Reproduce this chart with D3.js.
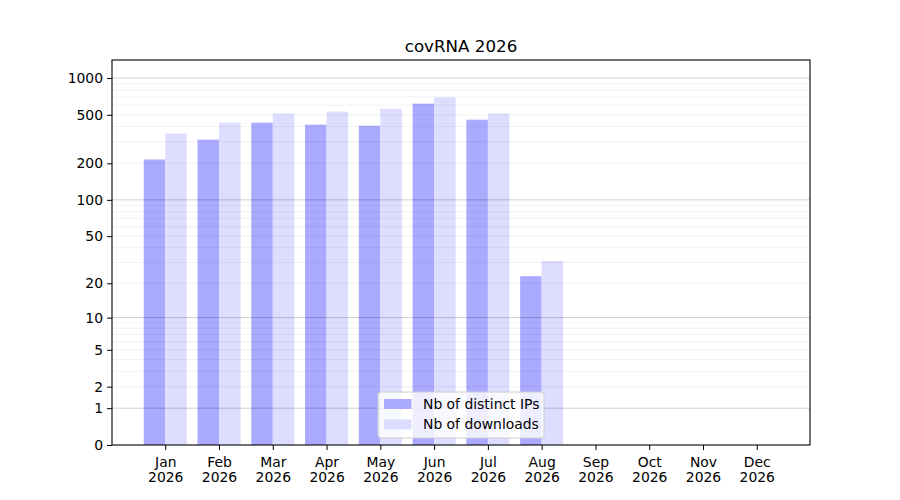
<!DOCTYPE html>
<html>
<head>
<meta charset="utf-8">
<script src="https://cdn.jsdelivr.net/npm/d3@7"></script>
<style>
  body { margin: 0; background: #fff; }
  text { font-family: "DejaVu Sans", sans-serif; }
</style>
</head>
<body>
<div id="chart"></div>
<script>
let months    = ["Jan", "Feb", "Mar", "Apr", "May", "Jun", "Jul", "Aug", "Sep", "Oct", "Nov", "Dec"];
let year      = "2026";
let ips       = [215, 313, 431, 415, 407, 617, 456, 23, 0, 0, 0, 0];
let downloads = [351, 431, 511, 531, 561, 694, 511, 31, 0, 0, 0, 0];
let yTicks    = [0, 1, 2, 5, 10, 20, 50, 100, 200, 500, 1000];
let majorGrid = [1, 10, 100, 1000];
let minorGrid = [2, 3, 4, 5, 6, 7, 8, 9,
                 20, 30, 40, 50, 60, 70, 80, 90,
                 200, 300, 400, 500, 600, 700, 800, 900];

let width   = 900,
    height  = 500,
    plotL   = 112,
    plotR   = 810,
    plotT   = 60,
    plotB   = 445,
    barW    = 0.4;

let svg =
  d3.select("#chart")
    .append("svg")
      .attr("width", width)
      .attr("height", height);

let x =
  d3.scaleLinear()
    .domain([-0.99, 11.99])
    .range([plotL, plotR]);

let y =
  d3.scaleSymlog()
    .constant(1)
    .domain([0, 1405])
    .range([plotB, plotT]);

// bars
let groups = svg.append("g");

groups.selectAll(".ips")
  .data(ips)
  .enter()
  .append("rect")
    .attr("class", "ips")
    .attr("x", function(d, i) { return x(i - barW); })
    .attr("width", x(barW) - x(0))
    .attr("y", function(d) { return y(d); })
    .attr("height", function(d) { return y(0) - y(d); })
    .attr("fill", "#aaaaff");

groups.selectAll(".dl")
  .data(downloads)
  .enter()
  .append("rect")
    .attr("class", "dl")
    .attr("x", function(d, i) { return x(i); })
    .attr("width", x(barW) - x(0))
    .attr("y", function(d) { return y(d); })
    .attr("height", function(d) { return y(0) - y(d); })
    .attr("fill", "#ddddff");

// grid on top, semi transparent like the original
svg.append("g")
  .selectAll("line")
  .data(minorGrid)
  .enter()
  .append("line")
    .attr("x1", plotL).attr("x2", plotR)
    .attr("y1", function(d) { return y(d); })
    .attr("y2", function(d) { return y(d); })
    .attr("stroke", "#000")
    .attr("stroke-opacity", 0.07)
    .attr("stroke-width", 0.8);

svg.append("g")
  .selectAll("line")
  .data(majorGrid)
  .enter()
  .append("line")
    .attr("x1", plotL).attr("x2", plotR)
    .attr("y1", function(d) { return y(d); })
    .attr("y2", function(d) { return y(d); })
    .attr("stroke", "#000")
    .attr("stroke-opacity", 0.2)
    .attr("stroke-width", 1);

// axes
let yAxis =
  svg.append("g")
    .attr("transform", translate(plotL, 0))
    .call(d3.axisLeft(y)
      .tickValues(yTicks)
      .tickFormat(d3.format("d"))
      .tickSize(5)
      .tickPadding(4));

let xAxis =
  svg.append("g")
    .attr("transform", translate(0, plotB))
    .call(d3.axisBottom(x)
      .tickValues(d3.range(months.length))
      .tickFormat(function(i) { return months[i]; })
      .tickSize(5)
      .tickPadding(7));

xAxis.selectAll(".tick text")
  .each(function(i) {
    let t = d3.select(this).text(null).attr("dy", null);
    t.append("tspan").attr("x", 0).attr("dy", "0.71em").text(months[i]);
    t.append("tspan").attr("x", 0).attr("dy", "1.06em").text(year);
  });

[yAxis, xAxis].forEach(function(a) {
  a.select(".domain").remove();
  a.selectAll(".tick text")
    .attr("font-size", 13.9)
    .attr("font-family", "DejaVu Sans")
    .attr("fill", "#000");
  a.selectAll(".tick line").attr("stroke", "#000").attr("stroke-width", 1);
});

svg.append("rect")
  .attr("x", plotL)
  .attr("y", plotT)
  .attr("width", plotR - plotL)
  .attr("height", plotB - plotT)
  .attr("fill", "none")
  .attr("stroke", "#000")
  .attr("stroke-width", 1.1);

// title
svg.append("text")
  .attr("x", (plotL + plotR) / 2)
  .attr("y", plotT - 8)
  .attr("text-anchor", "middle")
  .attr("font-size", 16.7)
  .text("covRNA " + year);

// legend
let legendItems = [
  {label: "Nb of distinct IPs", color: "#aaaaff"},
  {label: "Nb of downloads",    color: "#ddddff"}
];

let legend =
  svg.append("g")
    .attr("transform", translate(378, 392));

legend.append("rect")
  .attr("width", 166)
  .attr("height", 46)
  .attr("rx", 3)
  .attr("fill", "#fff")
  .attr("fill-opacity", 0.8)
  .attr("stroke", "#cccccc")
  .attr("stroke-width", 1);

let item =
  legend.selectAll(".item")
    .data(legendItems)
    .enter()
    .append("g")
      .attr("class", "item")
      .attr("transform", function(d, i) { return translate(6, 7 + i * 20.5); });

item.append("rect")
  .attr("width", 27.5)
  .attr("height", 10)
  .attr("fill", function(d) { return d.color; });

item.append("text")
  .attr("x", 39)
  .attr("y", 5)
  .attr("dy", "0.35em")
  .attr("font-size", 13.9)
  .text(function(d) { return d.label; });

function translate(x, y=0) {
  return "translate({x}, {y})"
          .replace("{x}", x)
          .replace("{y}", y);
}
</script>
</body>
</html>
